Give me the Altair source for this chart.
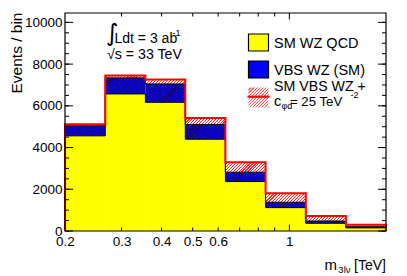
import math
import altair as alt
import pandas as pd

# ---------------- data ----------------
edges = [0.2, 0.267, 0.356, 0.474, 0.632, 0.843, 1.125, 1.5, 2.0]
qcd = [4560, 6570, 6170, 4400, 2370, 1120, 370, 150]          # SM WZ QCD
vbs_sm = [480, 770, 880, 700, 450, 260, 110, 55]               # VBS WZ (SM)
vbs_eft = [560, 890, 1090, 1020, 930, 690, 350, 150]           # SM VBS WZ + c_phid = 25 TeV^-2

y_labels = [0, 2000, 4000, 6000, 8000, 10000]
y_minor = [0, 500, 1000, 1500, 2000, 2500, 3000, 3500, 4000, 4500, 5000,
           5500, 6000, 6500, 7000, 7500, 8000, 8500, 9000, 9500, 10000]
x_labels = [0.2, 0.3, 0.4, 0.5, 0.6, 1]
x_minor = [0.3, 0.4, 0.5, 0.6, 0.7, 0.8, 0.9]
x_major = [1]

# ---------------- layout / style ----------------
W, H = 321, 218
YMAX = 10450
FONT = "Arial"
xs = alt.Scale(type="log", domain=[edges[0], edges[-1]], nice=False)
ys = alt.Scale(domain=[0, YMAX], nice=False, zero=True)

xa = alt.Axis(values=x_labels, format="~g", ticks=False, domain=False, grid=False,
              labelFlush=False, labelOverlap=False, labelPadding=3,
              labelFontSize=13.5, labelFont=FONT, labelColor="black", title=None)
ya = alt.Axis(values=y_labels, format="d", ticks=False, domain=False, grid=False,
              labelFlush=False, labelOverlap=False, labelPadding=3,
              labelFontSize=13.5, labelFont=FONT, labelColor="black",
              title="Events / bin", titleFont=FONT, titleFontSize=15.5,
              titleFontWeight="normal", titleColor="black",
              titleAngle=270, titleAlign="right", titleBaseline="alphabetic",
              titleX=-44, titleY=-1)

n = len(qcd)
sm_tot = [q + v for q, v in zip(qcd, vbs_sm)]
eft_tot = [q + v for q, v in zip(qcd, vbs_eft)]
bins = pd.DataFrame({
    "i": list(range(n)),
    "lo": edges[:-1],
    "hi": edges[1:],
    "zero": [0] * n,
    "qcd": qcd,
    "sm": sm_tot,
    "eft": eft_tot,
})


def steps(vals, closed):
    rows = []
    k = 0
    if closed:
        rows.append({"x": edges[0], "y": 0, "o": k}); k += 1
    for j, v in enumerate(vals):
        rows.append({"x": edges[j], "y": v, "o": k}); k += 1
    rows.append({"x": edges[-1], "y": vals[-1], "o": k}); k += 1
    if closed:
        rows.append({"x": edges[-1], "y": 0, "o": k})
    return pd.DataFrame(rows)


def hatch(bg, fg, w, h, period=3.0, duty=0.38):
    h = max(h, 0.5)
    eps = h / w
    a = (1 + eps) / (1 + eps * eps)
    m = max(1, int(round((w + h) / period)))
    stops = []
    for k in range(m):
        o0 = k / m
        o1 = (k + 1 - duty) / m
        o2 = (k + 1) / m
        stops += [alt.GradientStop(offset=o0, color=bg),
                  alt.GradientStop(offset=o1, color=bg),
                  alt.GradientStop(offset=o1, color=fg),
                  alt.GradientStop(offset=o2, color=fg)]
    return alt.LinearGradient(gradient="linear", x1=0, y1=0, x2=a, y2=a * eps, stops=stops)


def px_w(i):
    return W * math.log10(edges[i + 1] / edges[i]) / math.log10(edges[-1] / edges[0])


def X(f):
    return alt.X(f, scale=xs, axis=xa)


def Y(f):
    return alt.Y(f, scale=ys, axis=ya)


base = alt.Chart(bins)
layers = []

# yellow QCD first
layers.append(
    base.mark_rect(fill="#ffff00", strokeWidth=0).encode(
        x=X("lo:Q"), x2="hi:Q", y=Y("zero:Q"), y2="qcd:Q")
)

# hatched red histogram (above blue) and blue with dark hatch
for i in range(n):
    w = px_w(i)
    h_red = (eft_tot[i] - sm_tot[i]) * H / YMAX
    h_blue = (sm_tot[i] - qcd[i]) * H / YMAX
    layers.append(
        base.transform_filter(alt.datum.i == i)
        .mark_rect(fill=hatch("#ffffff", "#ff2a2a", w, h_red), strokeWidth=0)
        .encode(x=X("lo:Q"), x2="hi:Q", y=Y("sm:Q"), y2="eft:Q")
    )
    layers.append(
        base.transform_filter(alt.datum.i == i)
        .mark_rect(fill=hatch("#0000ff", "#20004a", w, h_blue), strokeWidth=0)
        .encode(x=X("lo:Q"), x2="hi:Q", y=Y("qcd:Q"), y2="sm:Q")
    )

# step outlines
for vals, color, sw, closed in [(qcd, "#000000", 1, False), (sm_tot, "#000000", 1, False),
                                (eft_tot, "#ff0000", 2, True)]:
    layers.append(
        alt.Chart(steps(vals, closed)).mark_line(interpolate="step-after", color=color,
                                                 strokeWidth=sw, strokeJoin="miter")
        .encode(x=X("x:Q"), y=Y("y:Q"), order="o:Q")
    )

# tick marks (inside the frame, on all four sides)
ymaj = pd.DataFrame({"v": y_labels})
ymin = pd.DataFrame({"v": y_minor})
for df, L in [(ymin, 4), (ymaj, 8)]:
    c = alt.Chart(df).mark_rule(color="black", strokeWidth=1)
    layers.append(c.encode(y=Y("v:Q"), x=alt.value(0), x2=alt.value(L)))
    layers.append(c.encode(y=Y("v:Q"), x=alt.value(W - L), x2=alt.value(W)))
xmin = pd.DataFrame({"v": x_minor})
xmaj = pd.DataFrame({"v": x_major})
for df, L in [(xmin, 3.5), (xmaj, 6.5)]:
    c = alt.Chart(df).mark_rule(color="black", strokeWidth=1)
    layers.append(c.encode(x=X("v:Q"), y=alt.value(H), y2=alt.value(H - L)))
    layers.append(c.encode(x=X("v:Q"), y=alt.value(0), y2=alt.value(L)))

# frame
one = pd.DataFrame({"k": [0]})
layers.append(alt.Chart(one).mark_rect(fill=None, stroke="black", strokeWidth=1.2).encode(
    x=alt.value(0), x2=alt.value(W), y=alt.value(0), y2=alt.value(H)))

# legend (plot coordinates: page minus (65, 13))
LX0, LX1 = 183.5, 203.5
layers.append(alt.Chart(one).mark_rect(fill="#ffff00", stroke="black", strokeWidth=1.2).encode(
    x=alt.value(LX0), x2=alt.value(LX1), y=alt.value(21), y2=alt.value(38)))
layers.append(alt.Chart(one).mark_rect(fill="#0000ff", stroke="black", strokeWidth=1.2).encode(
    x=alt.value(LX0), x2=alt.value(LX1), y=alt.value(48), y2=alt.value(65)))
layers.append(alt.Chart(one).mark_rect(fill=hatch("#ffffff", "#ff5050", 20, 20), strokeWidth=0).encode(
    x=alt.value(LX0), x2=alt.value(LX1), y=alt.value(74.5), y2=alt.value(94.5)))
layers.append(alt.Chart(one).mark_rule(color="#ff0000", strokeWidth=2.2).encode(
    x=alt.value(LX0 - 1), x2=alt.value(LX1 + 1), y=alt.value(83.7)))


def txt(s, x, y, size, align="left", baseline="alphabetic", font=FONT):
    return alt.Chart(one).mark_text(text=s, align=align, baseline=baseline, font=font,
                                    fontSize=size, color="black").encode(
        x=alt.value(x), y=alt.value(y))


LF = 14.5
layers += [
    txt("SM WZ QCD", 209, 34.8, LF),
    txt("VBS WZ (SM)", 209, 62, LF),
    txt("SM VBS WZ +", 209, 77.5, 14.2),
    txt("c", 209, 92.5, LF),
    txt("φd", 216.5, 95.5, 9),
    txt("= 25 TeV", 225, 92.5, 13.2),
    txt("-2", 285.5, 84.5, 9),
    # luminosity / energy
    txt("∫", 41, 28, 24, font="DejaVu Sans"),
    txt("Ldt = 3 ab", 49.5, 29.5, 14),
    txt("-1", 107.5, 22.5, 9),
    txt("√s = 33 TeV", 42, 45.5, 14.2),
    # x title
    txt("[TeV]", 321, 257, 14, align="right"),
    txt("3lν", 285.5, 259.5, 9.5, align="right"),
    txt("m", 272, 257, 15, align="right"),
]

chart = alt.layer(*layers).properties(
    width=W, height=H,
    autosize=alt.AutoSizeParams(type="none"),
    padding={"left": 57, "top": 5, "right": 10, "bottom": 44},
).configure_view(stroke=None)

chart.save("out.html", embed_options={"renderer": "svg", "actions": False})
